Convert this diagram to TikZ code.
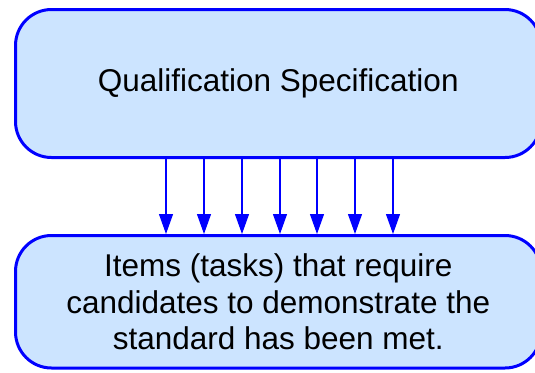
\documentclass[tikz,border=0pt]{standalone}
\usepackage{fontspec}
\setmainfont{Liberation Sans}
\usepackage{tikz}
\usetikzlibrary{positioning,arrows.meta}

\definecolor{boxblue}{RGB}{204,228,255}
\definecolor{edgeblue}{RGB}{0,0,255}

\tikzset{
  specbox/.style={draw=edgeblue, line width=3pt, fill=boxblue, rounded corners=36pt,
    minimum width=525.5pt, align=center, inner sep=0pt,
    font=\fontsize{31.5pt}{36.5pt}\selectfont},
  feed/.style={draw=edgeblue, line width=1.2pt, -{Triangle[width=14pt,length=20pt]}}
}

\begin{document}
\begin{tikzpicture}[x=1pt,y=-1pt]
\useasboundingbox (0,0) rectangle (535,372);
\node[specbox, minimum height=148pt] at (278.25,83.5) (spec) {Qualification Specification};
\node[specbox, minimum height=132.5pt] at (278.25,301.75) (items) {Items (tasks) that require\\
candidates to demonstrate the\\
standard has been met.};
% one arrow per item
\foreach \x in {166,204,242,280,317,355,393}
  \draw[feed] (spec.south -| \x,0) -- (items.north -| \x,0);
\end{tikzpicture}
\end{document}
